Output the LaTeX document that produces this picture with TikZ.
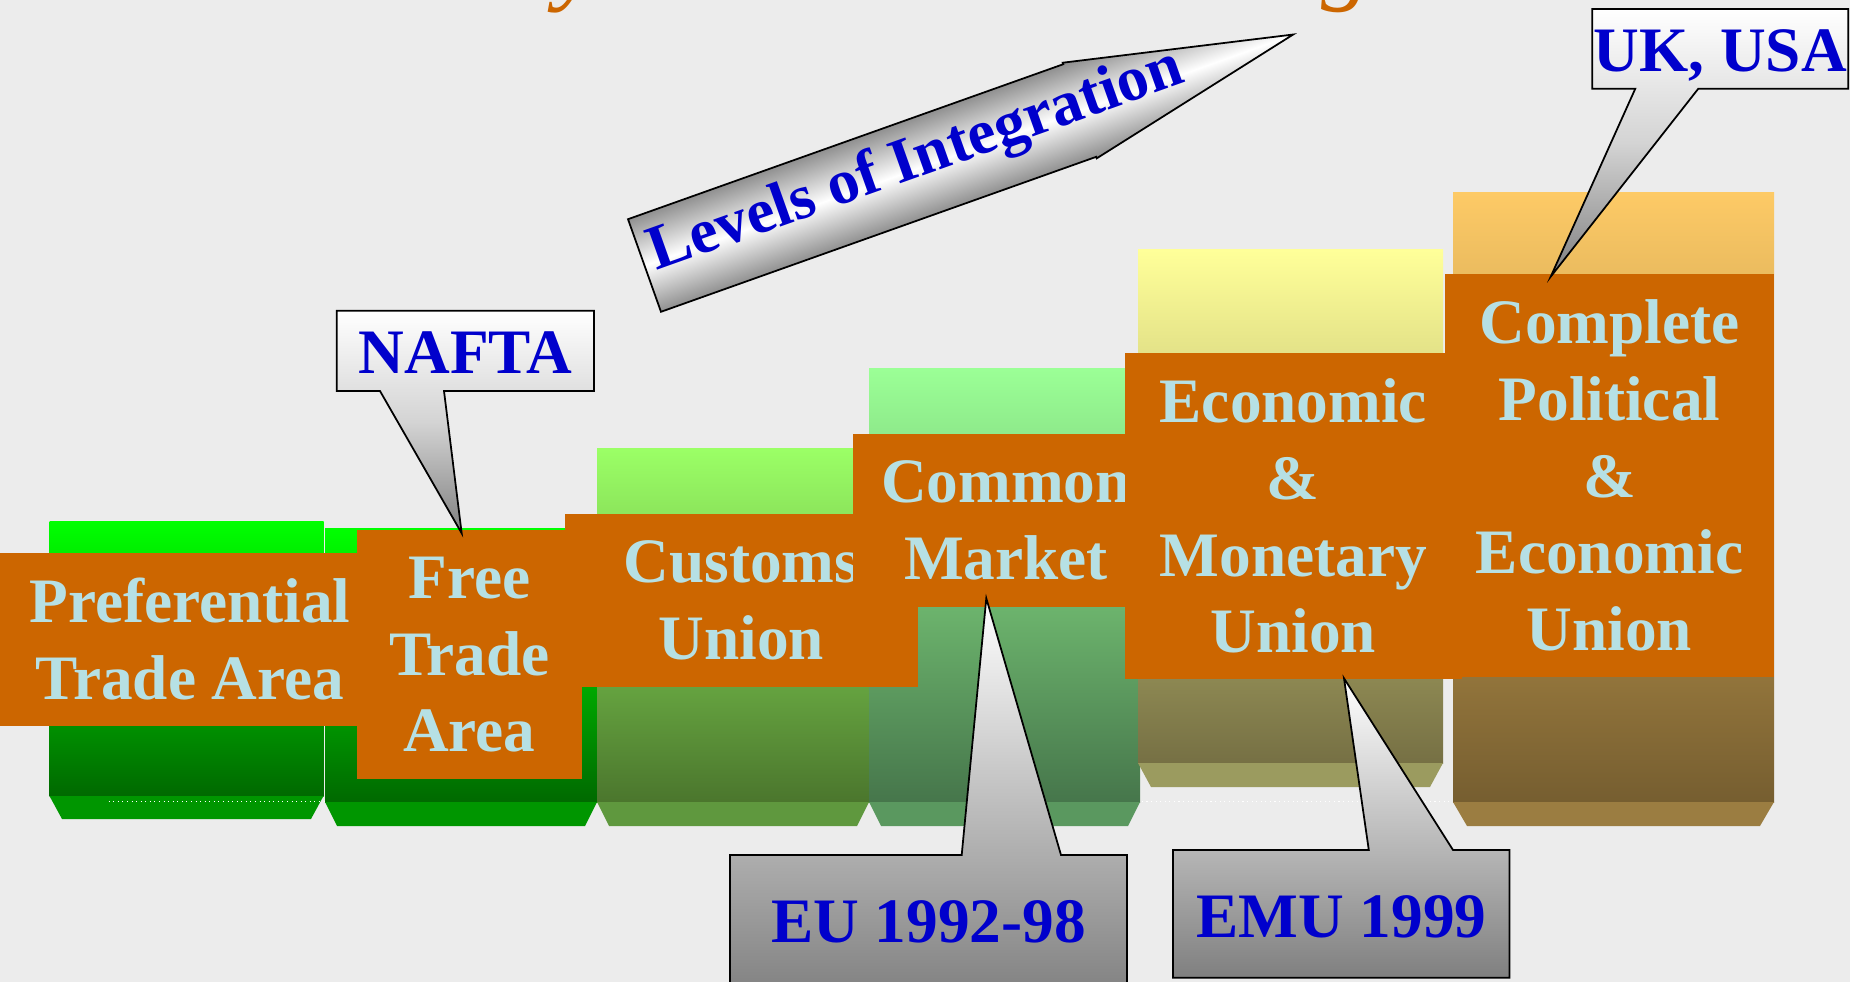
\documentclass[tikz,border=0pt]{standalone}
\usepackage{fontspec}
\setmainfont{Liberation Serif}
\definecolor{paper}{RGB}{236,236,236}
\definecolor{rust}{RGB}{204,102,0}
\definecolor{pale}{RGB}{182,224,228}
\definecolor{ink}{RGB}{0,0,204}
\definecolor{limetop}{RGB}{0,255,0}
\definecolor{limelow}{RGB}{0,105,0}
\definecolor{limebase}{RGB}{0,150,0}
\definecolor{custtop}{RGB}{155,255,102}
\definecolor{custlow}{RGB}{75,118,45}
\definecolor{custbase}{RGB}{95,152,62}
\definecolor{commtop}{RGB}{155,255,150}
\definecolor{commlow}{RGB}{70,118,75}
\definecolor{commbase}{RGB}{90,152,95}
\definecolor{emutop}{RGB}{255,255,153}
\definecolor{emulow}{RGB}{118,112,68}
\definecolor{emubase}{RGB}{155,155,95}
\definecolor{polytop}{RGB}{253,202,102}
\definecolor{polylow}{RGB}{118,94,48}
\definecolor{polybase}{RGB}{155,125,65}
\tikzset{stagebox/.style={fill=rust, text=pale, inner sep=0pt, align=center,
  font=\fontsize{18}{21.8}\selectfont\bfseries}}
\tikzset{calltext/.style={text=ink, inner sep=0pt, anchor=base,
  font=\fontsize{18}{21.8}\selectfont\bfseries}}
\tikzset{callout/.style={draw=black, line width=0.5pt, top color=white, bottom color=black!50}}
\tikzset{callout down/.style={draw=black, line width=0.5pt, top color=white, bottom color=black!50,
  middle color=black!17}}
\tikzset{titlebit/.style={text=rust, inner sep=0pt, anchor=base west,
  font=\fontsize{28.5}{30}\selectfont\itshape}}

\begin{document}
\begin{tikzpicture}[x=0.01cm, y=-0.01cm]
  \useasboundingbox (0,0) rectangle (1850,982);
  \fill[paper] (0,0) rectangle (1850,982);

  \node[titlebit] (ty) at (556,-8) {y};
  \node[titlebit] (tg) at (1321,-8) {g};

  % columns
  \shade[top color=limetop, bottom color=limelow] (49.5,522) rectangle (323.5,796);
  \fill[limebase] (49.5,796) -- (323.5,796) -- (311,819) -- (62,819) -- cycle;
  \draw[white, line width=0.3pt, densely dotted] (108.7,801.7) -- (1452,801.7);
  \shade[top color=limetop, bottom color=limelow] (325,529) rectangle (597,802);
  \fill[limebase] (325,802) -- (597,802) -- (585,826) -- (337,826) -- cycle;
  \shade[top color=custtop, bottom color=custlow] (597,449) rectangle (869,802);
  \fill[custbase] (597,802) -- (869,802) -- (857,826) -- (609,826) -- cycle;
  \shade[top color=commtop, bottom color=commlow] (869,369) rectangle (1140,802);
  \fill[commbase] (869,802) -- (1140,802) -- (1128,826) -- (881,826) -- cycle;
  \shade[top color=emutop, bottom color=emulow] (1138,250) rectangle (1443,763);
  \fill[emubase] (1138,763) -- (1443,763) -- (1430,787) -- (1151,787) -- cycle;
  \shade[top color=polytop, bottom color=polylow] (1453,193) rectangle (1774,802);
  \fill[polybase] (1453,802) -- (1774,802) -- (1760,826) -- (1467,826) -- cycle;

  % labels
  \node[stagebox, minimum width=38mm, minimum height=17.3mm] (pta) at (190,639.2)
    {Preferential\\Trade Area};
  \node[stagebox, minimum width=22.47mm, minimum height=24.93mm] (fta) at (469.35,654.65)
    {Free\\Trade\\Area};
  \node[stagebox, minimum width=35.27mm, minimum height=17.27mm] (cu) at (741.35,600.35)
    {Customs\\Union};
  \node[stagebox, minimum width=30.66mm, minimum height=17.24mm] (cm) at (1006,520.5)
    {Common\\Market};
  \node[stagebox, minimum width=33.67mm, minimum height=32.63mm] (emu) at (1293.35,516.15)
    {Economic\\\&\\Monetary\\Union};
  \node[stagebox, minimum width=32.9mm, minimum height=40.27mm] (cpeu) at (1609.5,475.35)
    {Complete\\Political\\\&\\Economic\\Union};

  % arrow
  \begin{scope}[transform canvas={shift={(644.5,265.5)}, rotate=19.6}]
    \draw[line width=0.5pt, top color=black!45, bottom color=black!45, middle color=white]
      (0,-49.15) -- (462,-49.15) -- (462,-50.75) -- (688.6,0) -- (462,50.75)
      -- (462,49.15) -- (0,49.15) -- cycle;
    \node[calltext] (loi) at (291.3,9.1) {Levels of Integration};
  \end{scope}

  % callouts
  \path[callout down] (336.7,310.7) -- (594,310.7) -- (594,391) -- (444,391) -- (461.7,533.3)
    -- (380,391) -- (336.7,391) -- cycle;
  \node[calltext] (nafta) at (465.3,374) {NAFTA};
  \path[callout down] (1592.3,9) -- (1848.3,9) -- (1848.3,88.7) -- (1698.3,88.7) -- (1550.7,276.7)
    -- (1635.3,88.7) -- (1592.3,88.7) -- cycle;
  \node[calltext] (ukusa) at (1720.3,71.7) {UK, USA};
  \path[callout] (729.9,855) -- (961.7,855) -- (986.3,598.3) -- (1061,855) -- (1127,855)
    -- (1127,1000) -- (729.9,1000) -- cycle;
  \node[calltext] (eu) at (928.5,942.7) {EU 1992-98};
  \path[callout] (1173,850) -- (1368.8,850) -- (1344,678.3) -- (1453,850) -- (1509.4,850)
    -- (1509.4,977.7) -- (1173,977.7) -- cycle;
  \node[calltext] (emuyr) at (1341.3,937.7) {EMU 1999};
\end{tikzpicture}
\end{document}
